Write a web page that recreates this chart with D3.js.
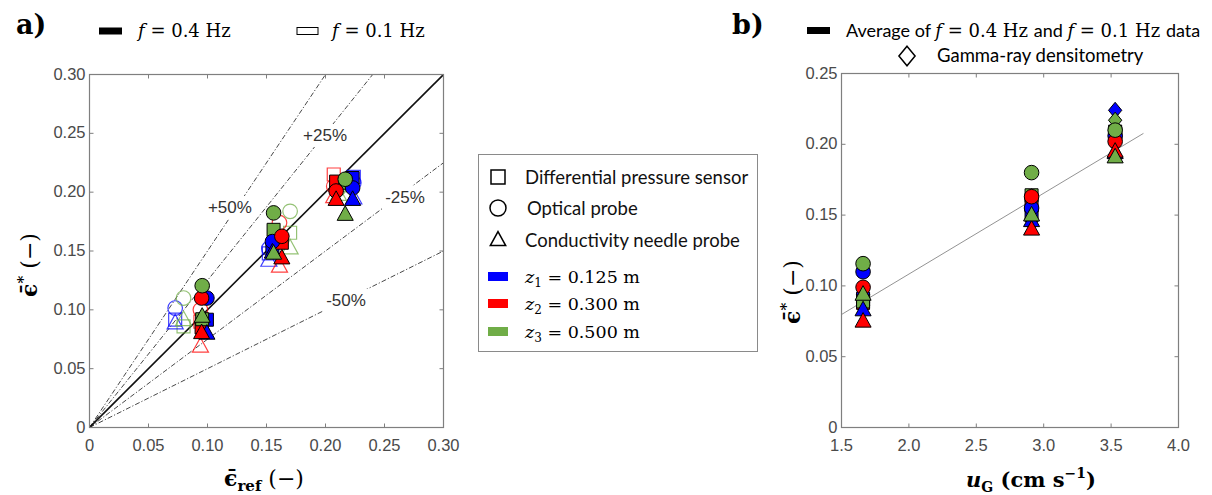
<!DOCTYPE html>
<html><head><meta charset="utf-8">
<script src="https://cdn.jsdelivr.net/npm/d3@7"></script>
<style>body{margin:0;background:#fff}svg{display:block}</style>
</head><body>
<svg id="c" width="1212" height="495"></svg>
<script>
// ---------------- DATA ----------------
const heights = ["z1", "z2", "z3"];
const heightLabels = ["0.125", "0.300", "0.500"];
const methods = ["square", "circle", "triangle"];
const methodLabels = ["Differential pressure sensor", "Optical probe", "Conductivity needle probe"];
const uG = [1.66, 2.91, 3.53];

// Panel a: reference holdup (x) per height, for f = 0.4 Hz (filled) and f = 0.1 Hz (open)
const refF04 = { z1: [0.0995, 0.155, 0.223], z2: [0.095, 0.163, 0.209], z3: [0.0955, 0.156, 0.2167] };
const refF01 = { z1: [0.0726, 0.152, 0.224], z2: [0.094, 0.161, 0.207], z3: [0.0797, 0.170, 0.211] };
// measured holdup (y) per method & height
const starF04 = {
  square:   { z1: [0.0916, 0.152, 0.212], z2: [0.085, 0.157, 0.209], z3: [0.092, 0.168, 0.208] },
  circle:   { z1: [0.110, 0.158, 0.2036], z2: [0.110, 0.1625, 0.201], z3: [0.1205, 0.1824, 0.211] },
  triangle: { z1: [0.080, 0.149, 0.1937], z2: [0.0805, 0.144, 0.1937], z3: [0.0944, 0.148, 0.181] }
};
const starF01 = {
  square:   { z1: [0.0916, 0.148, 0.213], z2: [0.090, 0.158, 0.215], z3: [0.086, 0.1655, 0.206] },
  circle:   { z1: [0.1015, 0.152, 0.208], z2: [0.100, 0.174, 0.205], z3: [0.110, 0.1837, 0.203] },
  triangle: { z1: [0.0888, 0.142, 0.195], z2: [0.069, 0.137, 0.196], z3: [0.0916, 0.1525, 0.198] }
};
const guideSlopes = [1.5, 1.25, 0.75, 0.5];
const guideLabels = ["+50%", "+25%", "-25%", "-50%"];
const guideLabelPos = [[0.119, 0.1874], [0.1996, 0.2486], [0.2674, 0.1959], [0.2174, 0.1084]];

// Panel b: averages of both frequencies, plus gamma-ray densitometry
const bGamma = { z1: [0.086, 0.153, 0.224], z2: [0.094, 0.162, 0.210], z3: [0.088, 0.163, 0.217] };
const bAvg = {
  square:   { z1: [0.091, 0.150, 0.208], z2: [0.088, 0.157, 0.207], z3: [0.089, 0.164, 0.209] },
  circle:   { z1: [0.110, 0.155, 0.206], z2: [0.099, 0.163, 0.202], z3: [0.1157, 0.180, 0.210] },
  triangle: { z1: [0.083, 0.146, 0.194], z2: [0.075, 0.140, 0.195], z3: [0.094, 0.150, 0.191] }
};
const trendX = [1.5, 3.74];
const trendY = [0.0798, 0.2077];

const ticksA = [0, 0.05, 0.10, 0.15, 0.20, 0.25, 0.30];
const tickLabelsA = ["0", "0.05", "0.10", "0.15", "0.20", "0.25", "0.30"];
const ticksBx = [1.5, 2.0, 2.5, 3.0, 3.5, 4.0];
const tickLabelsBx = ["1.5", "2.0", "2.5", "3.0", "3.5", "4.0"];
const ticksBy = [0, 0.05, 0.10, 0.15, 0.20, 0.25];
const tickLabelsBy = ["0", "0.05", "0.10", "0.15", "0.20", "0.25"];

// ---------------- STYLE ----------------
const colors = { z1: "#0000ff", z2: "#ff0000", z3: "#70ad47" };
const axisColor = "#7f7f7f";
const tickText = "#4a4a4a";
const SANS = "'Liberation Sans', Arial, sans-serif";
const SERIF = "'DejaVu Serif', serif";
const LEG = "Lato, 'Open Sans', sans-serif";

const svg = d3.select("#c");

// custom symbol types (size = nominal radius in px)
const symTypes = {
  square: { draw(ctx, r) { ctx.moveTo(-r, -r); ctx.lineTo(r, -r); ctx.lineTo(r, r); ctx.lineTo(-r, r); ctx.closePath(); } },
  circle: { draw(ctx, r) { ctx.moveTo(r, 0); ctx.arc(0, 0, r, 0, 2 * Math.PI); ctx.closePath(); } },
  triangle: { draw(ctx, r) { ctx.moveTo(0, -r * 1.2); ctx.lineTo(r * 1.1, r * 0.8); ctx.lineTo(-r * 1.1, r * 0.8); ctx.closePath(); } },
  diamond: { draw(ctx, r) { ctx.moveTo(0, -r * 1.15); ctx.lineTo(r * 0.95, 0); ctx.lineTo(0, r * 1.15); ctx.lineTo(-r * 0.95, 0); ctx.closePath(); } }
};
const symSize = { square: 6.5, circle: 7.3, triangle: 7.3, diamond: 7 };
function sym(type, r) { return d3.symbol().type(symTypes[type]).size(r || symSize[type])(); }

function drawFrame(g, x, y, xt, xl, yt, yl) {
  const [x0, x1] = x.range(), [y0, y1] = y.range();
  const tk = g.append("g").attr("stroke", axisColor).attr("stroke-width", 1);
  xt.forEach(t => {
    const px = x(t);
    tk.append("line").attr("x1", px).attr("x2", px).attr("y1", y0).attr("y2", y0 - 4);
    tk.append("line").attr("x1", px).attr("x2", px).attr("y1", y1).attr("y2", y1 + 4);
  });
  yt.forEach(t => {
    const py = y(t);
    tk.append("line").attr("x1", x0).attr("x2", x0 + 4).attr("y1", py).attr("y2", py);
    tk.append("line").attr("x1", x1).attr("x2", x1 - 4).attr("y1", py).attr("y2", py);
  });
  const lab = g.append("g").attr("font-family", SANS).attr("font-size", 16.5).attr("fill", tickText);
  xt.forEach((t, i) => lab.append("text").attr("x", x(t)).attr("y", y0 + 23.5).attr("text-anchor", "middle").text(xl[i]));
  yt.forEach((t, i) => lab.append("text").attr("x", x0 - 4).attr("y", y(t) + 5).attr("text-anchor", "end").text(yl[i]));
}
function drawBox(g, x, y) {
  const [x0, x1] = x.range(), [y0, y1] = y.range();
  g.append("rect").attr("x", x0).attr("y", y1).attr("width", x1 - x0).attr("height", y0 - y1)
    .attr("fill", "none").attr("stroke", axisColor).attr("stroke-width", 1.2);
}

// ================= PANEL A =================
const xA = d3.scaleLinear().domain([0, 0.30]).range([89.5, 443.5]);
const yA = d3.scaleLinear().domain([0, 0.30]).range([427.5, 74.5]);
const gA = svg.append("g");
drawFrame(gA, xA, yA, ticksA, tickLabelsA, ticksA, tickLabelsA);

svg.append("clipPath").attr("id", "clipA").append("rect")
  .attr("x", 89.5).attr("y", 74.5).attr("width", 354).attr("height", 353);
const lines = gA.append("g").attr("clip-path", "url(#clipA)");
const lineGen = d3.line().x(d => xA(d[0])).y(d => yA(d[1]));
guideSlopes.forEach(s => {
  lines.append("path").attr("d", lineGen([[0, 0], [0.30, 0.30 * s]]))
    .attr("fill", "none").attr("stroke", "#333").attr("stroke-width", 0.9)
    .attr("stroke-dasharray", "5,2,1.2,2");
});
lines.append("path").attr("d", lineGen([[0, 0], [0.30, 0.30]]))
  .attr("fill", "none").attr("stroke", "#111").attr("stroke-width", 1.6);
// guide labels with white backing (gap in the line)
guideLabels.forEach((lbl, i) => {
  const gg = gA.append("g");
  const bg = gg.append("rect").attr("fill", "#fff");
  const t = gg.append("text").attr("x", xA(guideLabelPos[i][0])).attr("y", yA(guideLabelPos[i][1]) + 6)
    .attr("text-anchor", "middle").attr("font-family", SANS).attr("font-size", 17).attr("fill", "#333").text(lbl);
  const bb = t.node().getBBox();
  bg.attr("x", bb.x - 3).attr("y", bb.y - 2).attr("width", bb.width + 6).attr("height", bb.height + 4);
});

function markersA(g, refs, stars, filled) {
  methods.forEach(m => {
    heights.forEach(h => {
      refs[h].forEach((rx, k) => {
        g.append("path").attr("d", sym(m))
          .attr("transform", `translate(${xA(rx)},${yA(stars[m][h][k])})`)
          .attr("fill", filled ? colors[h] : "none")
          .attr("stroke", filled ? "#000" : colors[h])
          .attr("stroke-opacity", filled ? 1 : 0.75)
          .attr("stroke-width", filled ? 1 : 1.2);
      });
    });
  });
}
markersA(gA.append("g"), refF01, starF01, false);
markersA(gA.append("g"), refF04, starF04, true);
drawBox(gA, xA, yA);

// ================= PANEL B =================
const xB = d3.scaleLinear().domain([1.5, 4.0]).range([841.5, 1178.5]);
const yB = d3.scaleLinear().domain([0, 0.25]).range([427.5, 73.5]);
const gB = svg.append("g");
drawFrame(gB, xB, yB, ticksBx, tickLabelsBx, ticksBy, tickLabelsBy);
gB.append("path").attr("d", d3.line().x(d => xB(d)).y((d, i) => yB(trendY[i]))(trendX))
  .attr("fill", "none").attr("stroke", "#777").attr("stroke-width", 0.8);
const mB = gB.append("g");
heights.forEach(h => bGamma[h].forEach((v, k) => {
  mB.append("path").attr("d", sym("diamond")).attr("transform", `translate(${xB(uG[k])},${yB(v)})`)
    .attr("fill", colors[h]).attr("stroke", "#000").attr("stroke-width", 1);
}));
methods.forEach(m => heights.forEach(h => bAvg[m][h].forEach((v, k) => {
  mB.append("path").attr("d", sym(m)).attr("transform", `translate(${xB(uG[k])},${yB(v)})`)
    .attr("fill", colors[h]).attr("stroke", "#000").attr("stroke-width", 1);
})));
drawBox(gB, xB, yB);

// ================= LABELS =================
svg.append("text").attr("x", 16).attr("y", 34).attr("font-family", SERIF).attr("font-weight", "bold")
  .attr("font-size", 27).text("a)");
svg.append("text").attr("x", 732).attr("y", 34).attr("font-family", SERIF).attr("font-weight", "bold")
  .attr("font-size", 27).text("b)");

// axis titles
function epsLabel(g, sub) {
  const t = g.append("text").attr("font-family", SERIF).attr("font-weight", "bold").attr("font-size", 22)
    .attr("text-anchor", "middle");
  t.append("tspan").text("\u03F5\u0304");
  if (sub === "ref") t.append("tspan").attr("font-size", 15).attr("dy", 5).text("ref");
  else t.append("tspan").attr("font-size", 15).attr("dy", -9).text("*");
  t.append("tspan").attr("dy", sub === "ref" ? -5 : 9).attr("font-weight", "normal").text(" (\u2212)");
  return t;
}
epsLabel(svg.append("g").attr("transform", "translate(264,486)"), "ref");
epsLabel(svg.append("g").attr("transform", "translate(37,265) rotate(-90)"), "star");
epsLabel(svg.append("g").attr("transform", "translate(800,292) rotate(-90)"), "star");
{
  const t = svg.append("text").attr("x", 1031).attr("y", 487).attr("text-anchor", "middle")
    .attr("font-family", SERIF).attr("font-weight", "bold").attr("font-size", 21);
  t.append("tspan").attr("font-style", "italic").text("u");
  t.append("tspan").attr("font-size", 14).attr("dy", 5).text("G");
  t.append("tspan").attr("dy", -5).text(" (cm s");
  t.append("tspan").attr("font-size", 14).attr("dy", -9).text("\u22121");
  t.append("tspan").attr("dy", 9).text(")");
}

// legend panel a top
svg.append("rect").attr("x", 99).attr("y", 27.5).attr("width", 23).attr("height", 7).attr("fill", "#000");
svg.append("rect").attr("x", 297).attr("y", 27.5).attr("width", 21).attr("height", 7)
  .attr("fill", "#fff").attr("stroke", "#000").attr("stroke-width", 1);
function fText(x, y, val) {
  const t = svg.append("text").attr("x", x).attr("y", y).attr("font-family", SERIF).attr("font-size", 18);
  t.append("tspan").attr("font-style", "italic").text("f");
  t.append("tspan").text(" = " + val + " Hz");
}
fText(138, 37, "0.4");
fText(332, 37, "0.1");

// legend panel b top
svg.append("rect").attr("x", 807).attr("y", 27).attr("width", 23).attr("height", 7).attr("fill", "#000");
{
  const t = svg.append("text").attr("x", 846).attr("y", 37).attr("font-size", 18);
  t.append("tspan").attr("font-family", LEG).text("Average of ");
  t.append("tspan").attr("font-family", SERIF).attr("font-style", "italic").text("f");
  t.append("tspan").attr("font-family", SERIF).text(" = 0.4 Hz ");
  t.append("tspan").attr("font-family", LEG).text("and ");
  t.append("tspan").attr("font-family", SERIF).attr("font-style", "italic").text("f");
  t.append("tspan").attr("font-family", SERIF).text(" = 0.1 Hz ");
  t.append("tspan").attr("font-family", LEG).text("data");
}
svg.append("path").attr("d", sym("diamond", 8.5)).attr("transform", "translate(907,56)")
  .attr("fill", "#fff").attr("stroke", "#000").attr("stroke-width", 1.5);
svg.append("text").attr("x", 937).attr("y", 62).attr("font-family", LEG).attr("font-size", 18.5).text("Gamma-ray densitometry");

// middle legend
const gL = svg.append("g");
gL.append("rect").attr("x", 478.5).attr("y", 154.5).attr("width", 279).attr("height", 197)
  .attr("fill", "#fff").attr("stroke", "#8a8a8a").attr("stroke-width", 1);
const legY = [177, 208, 240];
methods.forEach((m, i) => {
  gL.append("path").attr("d", sym(m, m === "circle" ? 8 : 7)).attr("transform", `translate(498,${legY[i]})`)
    .attr("fill", "#fff").attr("stroke", "#000").attr("stroke-width", 1.5);
  gL.append("text").attr("x", i === 1 ? 527 : 525).attr("y", legY[i] + 6.5).attr("font-family", LEG)
    .attr("font-size", 18.5).attr("fill", "#111").text(methodLabels[i]);
});
const legZY = [277, 304, 332];
heights.forEach((h, i) => {
  gL.append("rect").attr("x", 488).attr("y", legZY[i] - 5).attr("width", 20).attr("height", 9).attr("fill", colors[h]);
  const t = gL.append("text").attr("x", 525).attr("y", legZY[i] + 6).attr("font-family", SERIF).attr("font-size", 17.5);
  t.append("tspan").attr("font-style", "italic").text("z");
  t.append("tspan").attr("font-size", 12).attr("dy", 4).text(String(i + 1));
  t.append("tspan").attr("dy", -4).text(" = " + heightLabels[i] + " m");
});
</script>
</body></html>
